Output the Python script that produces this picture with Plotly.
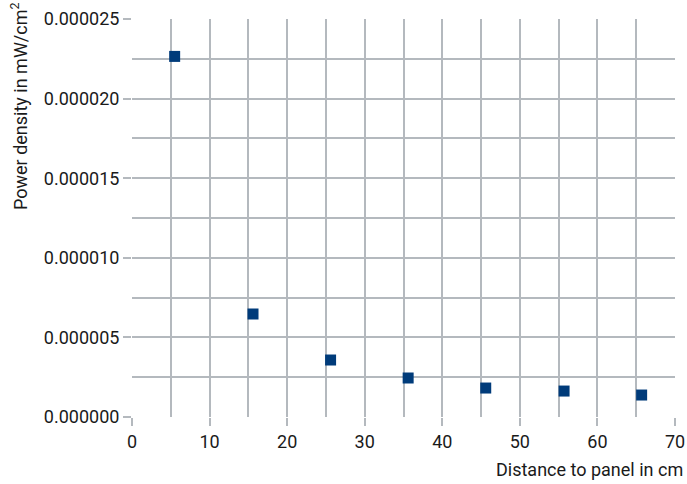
import plotly.graph_objects as go

distance_cm = [5.5, 15.6, 25.6, 35.6, 45.6, 55.7, 65.7]
power_density = [0.00002265, 0.00000647, 0.00000358, 0.00000245, 0.00000182, 0.00000163, 0.00000138]

x_ticks = [0, 10, 20, 30, 40, 50, 60, 70]
y_ticks = [0, 0.000005, 0.00001, 0.000015, 0.00002, 0.000025]
y_tick_text = ["0.000000", "0.000005", "0.000010", "0.000015", "0.000020", "0.000025"]

FONT = "Roboto, sans-serif"
GRID = "#b4b9be"
TXT = "#1a1a1a"

fig = go.Figure()
fig.add_trace(go.Scatter(
    x=distance_cm, y=power_density, mode="markers",
    marker=dict(symbol="square", size=11, color="#003b7a"),
    showlegend=False, cliponaxis=False,
))

fig.update_layout(
    width=687, height=484,
    margin=dict(l=132, r=12, t=19, b=67),
    paper_bgcolor="white", plot_bgcolor="white",
    font=dict(family=FONT, size=18, color=TXT),
)
fig.update_xaxes(
    range=[0, 70], tickvals=x_ticks, ticktext=[str(v) for v in x_ticks],
    showgrid=True, gridcolor=GRID, gridwidth=1.5,
    minor=dict(dtick=5, tick0=0, showgrid=True, gridcolor=GRID, gridwidth=1.5),
    ticks="outside", ticklen=8, tickcolor=GRID, tickwidth=1.5,
    showline=False, zeroline=False, automargin=False,
)
fig.update_yaxes(
    range=[0, 0.000025], tickvals=y_ticks, ticktext=y_tick_text,
    showgrid=True, gridcolor=GRID, gridwidth=1.5,
    minor=dict(dtick=0.0000025, tick0=0, showgrid=True, gridcolor=GRID, gridwidth=1.5),
    ticks="outside", ticklen=8, tickcolor=GRID, tickwidth=1.5,
    showline=False, zeroline=False, automargin=False,
)

fig.add_annotation(
    text="Distance to panel in cm", xref="paper", yref="paper",
    x=1.0, xshift=10, y=0, xanchor="right", yanchor="top", yshift=-40,
    showarrow=False, font=dict(family=FONT, size=18, color=TXT),
)
fig.add_annotation(
    text="Power density in mW/cm<sup>2</sup>", xref="paper", yref="paper",
    x=0, xshift=-132 + 5, y=1, yshift=19, xanchor="left", yanchor="top",
    textangle=-90, showarrow=False, font=dict(family=FONT, size=18, color=TXT),
)

fig.write_html(
    "out.html",
    config={"displayModeBar": False},
    post_script="document.body.style.margin='0';document.body.style.overflow='hidden';",
)
